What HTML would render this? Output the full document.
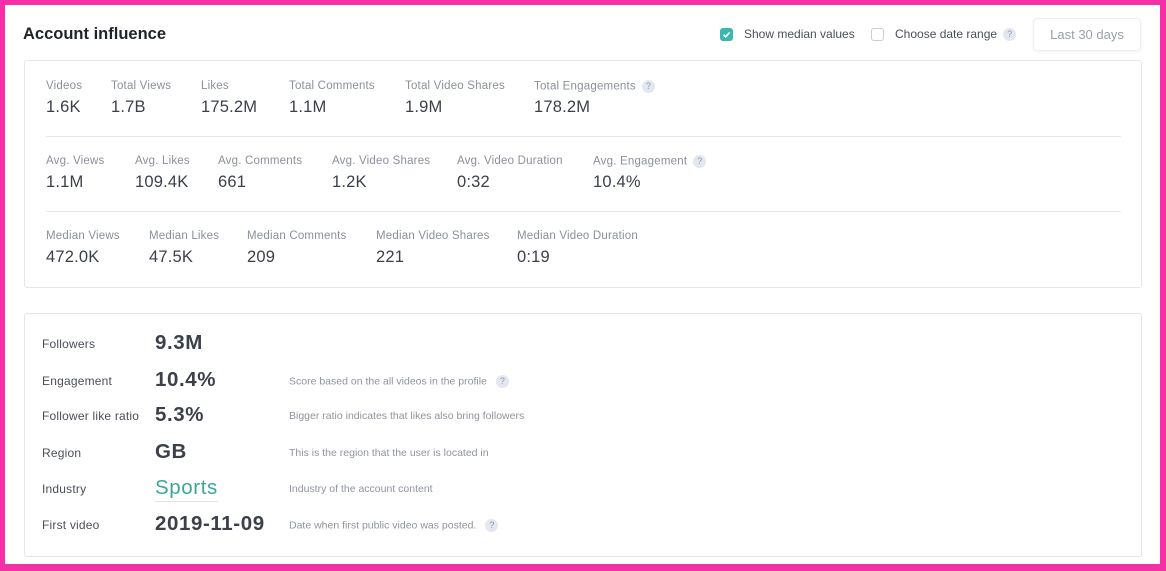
<!DOCTYPE html>
<html><head><meta charset="utf-8">
<style>
*{box-sizing:border-box;margin:0;padding:0}
body{width:1166px;height:571px;background:#f52fa6;font-family:"Liberation Sans",sans-serif;position:relative;overflow:hidden}
#card{position:absolute;left:5px;top:5px;width:1155px;height:559px;background:#fff}
.abs{position:absolute;white-space:nowrap}
.panel{position:absolute;border:1px solid #e3e6ec;border-radius:3px;background:#fff}
.lbl{font-size:11.5px;color:#8a909b;letter-spacing:0.2px}
.val{font-size:16.5px;color:#3b404a;letter-spacing:0.2px}
.div{position:absolute;height:1px;background:#e6e8ee}
.q{display:inline-block;width:13px;height:13px;border-radius:50%;background:#e3e7ef;color:#8e97a8;font-size:9px;text-align:center;line-height:13px;vertical-align:middle;margin-left:6px;letter-spacing:0}
.dl{font-size:12px;color:#4a4f58;letter-spacing:0.2px}
.dv{font-size:20.5px;font-weight:bold;color:#3b404a;letter-spacing:0.6px}
.dd{font-size:10.5px;color:#8f949d}
</style></head><body>
<div id="card">
  <div class="abs" style="left:18px;top:20px;font-size:16.5px;font-weight:bold;color:#1f232a">Account influence</div>
  <div class="abs" style="left:715px;top:23px;width:13px;height:13px;border-radius:3px;background:#3db7ad">
    <svg width="13" height="13"><path d="M3.5 6.8 L5.6 8.8 L9.5 4.5" stroke="#fff" stroke-width="1.6" fill="none"/></svg></div>
  <div class="abs" style="left:739px;top:22px;font-size:12px;color:#4a4f58">Show median values</div>
  <div class="abs" style="left:866px;top:23px;width:13px;height:13px;border-radius:3px;border:1px solid #c9cdd5;background:#fff"></div>
  <div class="abs" style="left:890px;top:22px;font-size:12px;color:#4a4f58">Choose date range<span class="q">?</span></div>
  <div class="abs" style="left:1028px;top:13px;width:108px;height:33px;border:1px solid #eceef2;border-radius:4px;box-shadow:0 1px 3px rgba(0,0,0,0.06);font-size:13px;color:#9a9fa8;text-align:center;line-height:31px">Last 30 days</div>

  <div class="panel" id="p1" style="left:19px;top:55px;width:1118px;height:228px"></div>
  <div class="panel" id="p2" style="left:19px;top:308px;width:1118px;height:244px"></div>
</div>
<script>
const row1Labels=["Videos","Total Views","Likes","Total Comments","Total Video Shares","Total Engagements"];
const row1Values=["1.6K","1.7B","175.2M","1.1M","1.9M","178.2M"];
const row2Labels=["Avg. Views","Avg. Likes","Avg. Comments","Avg. Video Shares","Avg. Video Duration","Avg. Engagement"];
const row2Values=["1.1M","109.4K","661","1.2K","0:32","10.4%"];
const row3Labels=["Median Views","Median Likes","Median Comments","Median Video Shares","Median Video Duration"];
const row3Values=["472.0K","47.5K","209","221","0:19"];
const detailLabels=["Followers","Engagement","Follower like ratio","Region","Industry","First video"];
const detailValues=["9.3M","10.4%","5.3%","GB","Sports","2019-11-09"];
const detailDescs=["","Score based on the all videos in the profile","Bigger ratio indicates that likes also bring followers","This is the region that the user is located in","Industry of the account content","Date when first public video was posted."];

const p1=document.getElementById('p1');
const rows=[[row1Labels,row1Values,[21,86,176,264,380,509],19,[5]],
            [row2Labels,row2Values,[21,110,193,307,432,568],94,[5]],
            [row3Labels,row3Values,[21,124,222,351,492],169,[]]];
rows.forEach((r,ri)=>{
  r[0].forEach((l,i)=>{
    const a=document.createElement('div');a.className='abs lbl';
    a.style.left=r[2][i]+'px';a.style.top=r[3]+'px';
    a.textContent=l;
    if(r[4].includes(i)){const q=document.createElement('span');q.className='q';q.textContent='?';
      
      
      a.appendChild(q);}
    
    
    p1.appendChild(a);
    const v=document.createElement('div');v.className='abs val';
    v.style.left=r[2][i]+'px';v.style.top=(r[3]+18)+'px';v.textContent=r[1][i];
    
    
    p1.appendChild(v);
  });
  if(ri<2){const d=document.createElement('div');d.className='div';
    d.style.left='21px';d.style.width='1075px';d.style.top=(r[3]+56)+'px';
    
    
    p1.appendChild(d);}
});
const p2=document.getElementById('p2');
const rowTops=[18,55,90,127,163,199];
detailLabels.forEach((l,i)=>{
  const t=rowTops[i];
  const a=document.createElement('div');a.className='abs dl';a.style.left='17px';a.style.top=(t+5)+'px';a.textContent=l;
  
  
  p2.appendChild(a);
  const v=document.createElement('div');v.className='abs dv';v.style.left='130px';v.style.top=(t-1)+'px';v.textContent=detailValues[i];
  if(l==='Industry'){v.style.color='#3aa79c';v.style.fontWeight='normal';v.style.borderBottom='1px solid #dfe3ea';v.style.paddingBottom='1px';}
  
  
  p2.appendChild(v);
  if(detailDescs[i]){
    const d=document.createElement('div');d.className='abs dd';d.style.left='264px';d.style.top=(t+6)+'px';d.textContent=detailDescs[i];
    if(i===1||i===5){const q=document.createElement('span');q.className='q';q.textContent='?';q.style.marginLeft='9px';
      
      
      d.appendChild(q);}
    
    
    p2.appendChild(d);
  }
});
</script>
</body></html>
